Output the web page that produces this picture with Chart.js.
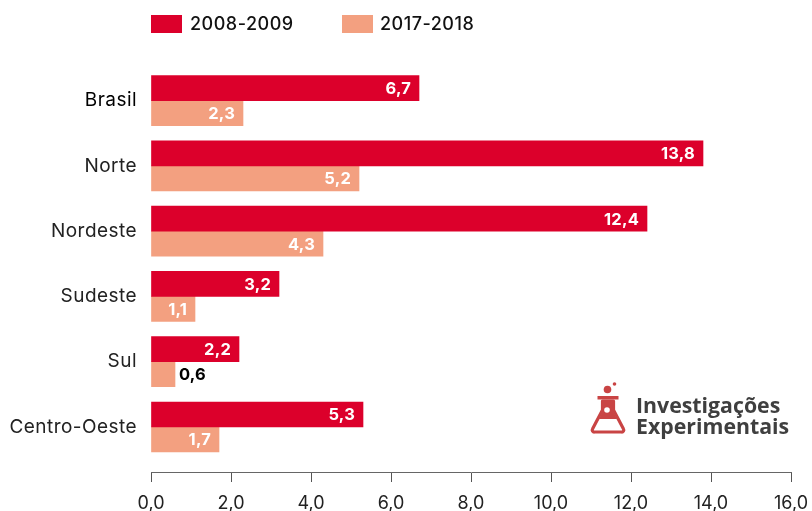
<!DOCTYPE html>
<html>
<head>
<meta charset="utf-8">
<title>Brasil e regiões</title>
<script src="https://cdn.jsdelivr.net/npm/chart.js@4"></script>
<style>
  html, body { margin: 0; padding: 0; background: #fff; }
  #wrap { position: relative; width: 812px; height: 511px; overflow: hidden; font-family: Inter, sans-serif; }
  #myChart { position: absolute; left: 0; top: 0; }
  .leg { position: absolute; top: 15px; height: 19px; line-height: 17px; font-size: 18px; font-weight: 500; letter-spacing: .5px; color: #111; white-space: nowrap; }
  .leg i { position: absolute; left: 0; top: 0; width: 31px; height: 18px; }
  .leg span { position: absolute; left: 39px; top: 0; }
  #leg2 span { left: 38px; }
  #logo { position: absolute; left: 588px; top: 380px; width: 210px; height: 60px; }
  #logo svg { position: absolute; left: 0; top: 0; }
  #logo div { position: absolute; left: 48px; top: 14px; font: 700 21.3px/21px "Open Sans", sans-serif; color: #3f3f3f; white-space: nowrap; }
</style>
</head>
<body>
<div id="wrap">
  <canvas id="myChart" width="812" height="511"></canvas>
  <div class="leg" id="leg1" style="left:151px"><i></i><span></span></div>
  <div class="leg" id="leg2" style="left:342px"><i></i><span></span></div>
  <div id="logo">
    <svg width="42" height="56" viewBox="0 0 42 56">
      <circle cx="19.5" cy="9.5" r="3.8" fill="#c94444"/>
      <circle cx="26.5" cy="4" r="1.8" fill="#c94444"/>
      <rect x="9.5" y="16" width="21" height="3.5" fill="#c94444"/>
      <path d="M14.5 21h11v9l10 19a2 2 0 0 1-2 3H6.5a2 2 0 0 1-2-3l10-19z" fill="none" stroke="#c94444" stroke-width="3.2" stroke-linejoin="round"/>
      <path d="M15 21h10v10l4 8H11l4-8z" fill="#c94444"/>
      <circle cx="19" cy="30" r="2.8" fill="#fff"/>
    </svg>
    <div>Investigações<br>Experimentais</div>
  </div>
</div>
<script>
// data
const categories = ['Brasil', 'Norte', 'Nordeste', 'Sudeste', 'Sul', 'Centro-Oeste'];
const serie2008 = [6.7, 13.8, 12.4, 3.2, 2.2, 5.3];
const serie2017 = [2.3, 5.2, 4.3, 1.1, 0.6, 1.7];
const seriesNames = ['2008-2009', '2017-2018'];
const colors = ['#dc002b', '#f3a080'];
const xTicks = [0, 2, 4, 6, 8, 10, 12, 14, 16];

const fontName = 'Inter';
const virgula = (v) => v.toFixed(1).replace('.', ',');

// y is linear so the x axis can sit a bit below the last group
const toPoints = (values) => values.map((v, i) => ({ x: v, y: i }));

// legend
[1, 2].forEach((n) => {
    const el = document.getElementById('leg' + n);
    el.querySelector('i').style.background = colors[n - 1];
    el.querySelector('span').textContent = seriesNames[n - 1];
});

// value labels, white inside the bar, black outside when it does not fit
const barLabels = {
    id: 'barLabels',
    afterDatasetsDraw(chart) {
        const ctx = chart.ctx;
        ctx.save();
        ctx.font = '700 16.5px ' + fontName;
        ctx.letterSpacing = '0.2px';
        ctx.textBaseline = 'middle';
        chart.data.datasets.forEach((ds, d) => {
            chart.getDatasetMeta(d).data.forEach((bar, i) => {
                const v = ds.data[i].x;
                if (v < 1) {
                    ctx.fillStyle = '#000';
                    ctx.textAlign = 'left';
                    ctx.fillText(virgula(v), bar.x + 4, bar.y + 1);
                } else {
                    ctx.fillStyle = '#fff';
                    ctx.textAlign = 'right';
                    ctx.fillText(virgula(v), bar.x - 8, bar.y + 1);
                }
            });
        });
        ctx.restore();
        // category labels (ticks z 1) are drawn after this, wider like the original font
        ctx.letterSpacing = '0.45px';
    },
    beforeDraw(chart) {
        chart.ctx.letterSpacing = '0px';
    }
};

new Chart(document.getElementById('myChart'), {
    type: 'bar',
    data: {
        datasets: [
            { label: seriesNames[0], data: toPoints(serie2008), backgroundColor: colors[0], barThickness: 25 },
            { label: seriesNames[1], data: toPoints(serie2017), backgroundColor: colors[1], barThickness: 25 }
        ]
    },
    options: {
        indexAxis: 'y',
        responsive: false,
        animation: false,
        layout: { padding: { top: 68, right: 21, left: 0, bottom: 0 } },
        plugins: { legend: { display: false }, tooltip: { enabled: false } },
        scales: {
            x: {
                type: 'linear',
                min: 0,
                max: 16,
                afterBuildTicks: (s) => { s.ticks = xTicks.map((value) => ({ value })); },
                afterFit: (s) => { s.height = 39; s.paddingRight = 0; s.paddingLeft = 0; },
                grid: { drawOnChartArea: false, drawTicks: true, tickLength: 10, color: '#555' },
                border: { color: '#666', width: 1 },
                ticks: {
                    autoSkip: false,
                    maxRotation: 0,
                    padding: 11,
                    color: '#222',
                    font: { family: fontName, size: 18 },
                    callback: (v) => virgula(v)
                }
            },
            y: {
                type: 'linear',
                reverse: true,
                offset: false,
                min: -0.5,
                max: 5.69,
                afterBuildTicks: (s) => { s.ticks = categories.map((c, i) => ({ value: i })); },
                afterFit: (s) => { s.width = 151; },
                grid: { display: false, offset: false },
                border: { display: false },
                ticks: {
                    autoSkip: false,
                    padding: 6,
                    z: 1,
                    color: (c) => (c.index === 0 ? '#000' : '#222'),
                    font: { family: fontName, size: 19 },
                    callback: (v) => categories[v]
                }
            }
        }
    },
    plugins: [barLabels]
});
</script>
</body>
</html>
